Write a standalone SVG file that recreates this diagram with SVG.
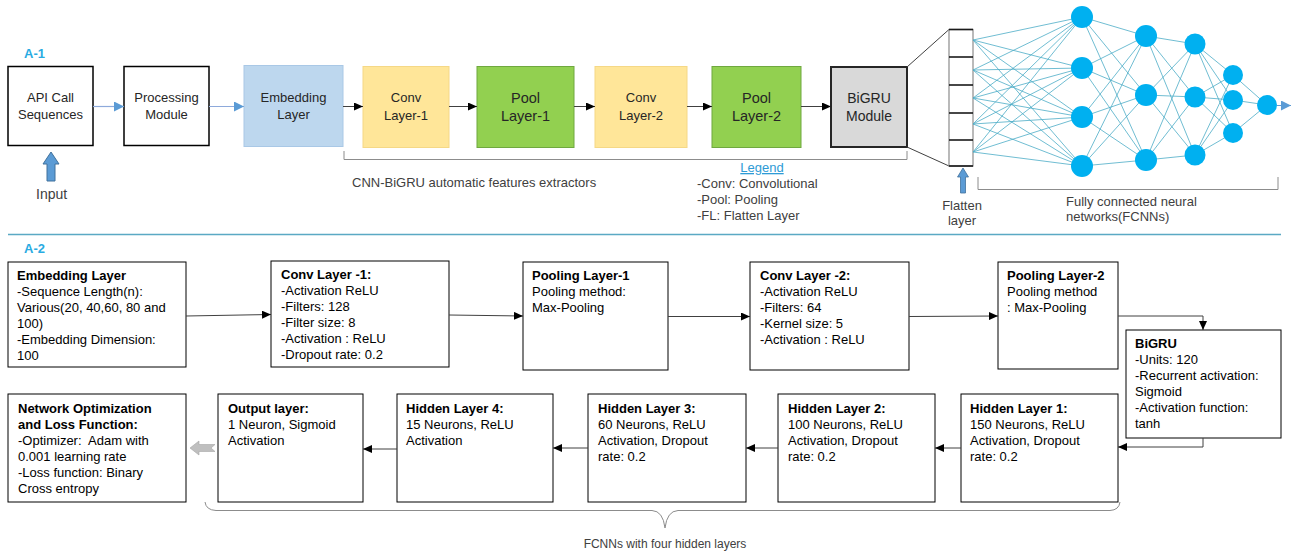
<svg xmlns="http://www.w3.org/2000/svg" width="1297" height="556" viewBox="0 0 1297 556">
<style>
text{font-family:"Liberation Sans",Arial,sans-serif;font-size:13px;fill:#000}
.c{text-anchor:middle;fill:#262626}
.b{font-weight:bold}
.lbl{font-weight:bold;fill:#29abe2;font-size:13px}
.box{fill:#fff;stroke:#000;stroke-width:1}
.tbox{fill:#fff;stroke:#000;stroke-width:1.5}
.emb{fill:#bdd7ee;stroke:#a9c8e6;stroke-width:1}
.conv{fill:#ffe699;stroke:#f5d886;stroke-width:1}
.pool{fill:#92d050;stroke:#6fa83f;stroke-width:1}
.gru{fill:#d9d9d9;stroke:#262626;stroke-width:2}
.ln{fill:none;stroke:#404040;stroke-width:1}
.bl{fill:none;stroke:#8eaadb;stroke-width:1.2}
.nn{stroke:#4bacc6;stroke-width:0.8;fill:none}
.neu{fill:#00b0f0}
.br{fill:none;stroke:#8c8c8c;stroke-width:1}
.gt{fill:#404040}
</style>
<defs>
<marker id="ab" markerUnits="userSpaceOnUse" markerWidth="9" markerHeight="8" refX="9" refY="4" orient="auto"><path d="M0,0 L9,4 L0,8 z" fill="#000"/></marker>
<marker id="abl" markerUnits="userSpaceOnUse" markerWidth="10" markerHeight="10" refX="10" refY="5" orient="auto"><path d="M0,0 L10,5 L0,10 z" fill="#5b9bd5"/></marker>
</defs>

<text class="lbl" x="24" y="58">A-1</text>
<text class="lbl" x="24" y="253">A-2</text>
<line x1="8" y1="234.5" x2="1281" y2="234.5" stroke="#5aa9c4" stroke-width="1.5"/>

<!-- Top row nodes -->
<g id="api"><rect class="tbox" x="8" y="66.5" width="85" height="79"/><text class="c" x="50.5" y="102">API Call</text><text class="c" x="50.5" y="119">Sequences</text></g>
<g id="processing"><rect class="tbox" x="124" y="66.5" width="85" height="79"/><text class="c" x="166.5" y="102">Processing</text><text class="c" x="166.5" y="119">Module</text></g>
<g id="embedding"><rect class="emb" x="244" y="65.5" width="99" height="81"/><text class="c" x="293.5" y="102">Embedding</text><text class="c" x="293.5" y="119">Layer</text></g>
<g id="conv1"><rect class="conv" x="363" y="66.5" width="86" height="81"/><text class="c" x="406" y="102">Conv</text><text class="c" x="406" y="120">Layer-1</text></g>
<g id="pool1"><rect class="pool" x="477" y="66.5" width="97" height="81"/><text class="c" x="525.5" y="103" style="font-size:14.5px">Pool</text><text class="c" x="525.5" y="121" style="font-size:14.5px">Layer-1</text></g>
<g id="conv2"><rect class="conv" x="595" y="66.5" width="92" height="81"/><text class="c" x="641" y="102">Conv</text><text class="c" x="641" y="120">Layer-2</text></g>
<g id="pool2"><rect class="pool" x="712" y="66.5" width="89" height="81"/><text class="c" x="756.5" y="103" style="font-size:14.5px">Pool</text><text class="c" x="756.5" y="121" style="font-size:14.5px">Layer-2</text></g>
<g id="bigru"><rect class="gru" x="831" y="67" width="76" height="80"/><text class="c" x="869" y="103" style="font-size:14px">BiGRU</text><text class="c" x="869" y="121" style="font-size:14px">Module</text></g>

<g id="input"><path d="M51,152 L59,164 L55,164 L55,181 L47,181 L47,164 L43,164 Z" fill="#5b9bd5" stroke="#41719c" stroke-width="1"/><text x="36" y="199" style="font-size:14px" class="gt">Input</text></g>

<g id="extractor-brace"><path class="br" d="M344,151 L344,159.5 L907,159.5 L907,151"/><text x="352" y="187" class="gt">CNN-BiGRU automatic features extractors</text></g>

<g id="legend">
<text x="762" y="172" text-anchor="middle" style="fill:#2e9bd6;text-decoration:underline">Legend</text>
<text x="697" y="188" class="gt">-Conv: Convolutional</text>
<text x="697" y="204" class="gt">-Pool: Pooling</text>
<text x="697" y="220" class="gt">-FL: Flatten Layer</text>
</g>

<!-- Flatten layer -->
<g id="flatten">
<line x1="907" y1="67" x2="949" y2="29.5" stroke="#404040" stroke-width="1"/>
<line x1="907" y1="147" x2="949" y2="166" stroke="#404040" stroke-width="1"/>
<rect x="949" y="29.5" width="24" height="136.5" fill="#fff" stroke="#8c8c8c" stroke-width="1.2"/>
<g stroke="#1a1a1a" stroke-width="1.6">
<line x1="949" y1="29.5" x2="973" y2="29.5"/><line x1="949" y1="57" x2="973" y2="57"/><line x1="949" y1="85" x2="973" y2="85"/><line x1="949" y1="113" x2="973" y2="113"/><line x1="949" y1="140" x2="973" y2="140"/><line x1="949" y1="166" x2="973" y2="166"/>
</g>
<path d="M963,168 L968.5,177 L965.5,177 L965.5,193 L960.5,193 L960.5,177 L957.5,177 Z" fill="#5b9bd5" stroke="#41719c" stroke-width="0.8"/>
<text class="c" x="962" y="210" style="fill:#404040">Flatten</text>
<text class="c" x="962" y="225" style="fill:#404040">layer</text>
</g>

<!-- Fully connected network -->
<g id="fcnn">
<g class="nn">
<path d="M973,40 L1082,17 M973,40 L1082,68 M973,40 L1082,117 M973,40 L1082,166 M973,70 L1082,17 M973,70 L1082,68 M973,70 L1082,117 M973,70 L1082,166 M973,98 L1082,17 M973,98 L1082,68 M973,98 L1082,117 M973,98 L1082,166 M973,124 L1082,17 M973,124 L1082,68 M973,124 L1082,117 M973,124 L1082,166 M973,152 L1082,17 M973,152 L1082,68 M973,152 L1082,117 M973,152 L1082,166"/>
<path d="M1082,17 L1146,36 M1082,17 L1146,95 M1082,17 L1146,160 M1082,68 L1146,36 M1082,68 L1146,95 M1082,68 L1146,160 M1082,117 L1146,36 M1082,117 L1146,95 M1082,117 L1146,160 M1082,166 L1146,36 M1082,166 L1146,95 M1082,166 L1146,160"/>
<path d="M1146,36 L1195,44 M1146,36 L1195,97 M1146,36 L1195,155 M1146,95 L1195,44 M1146,95 L1195,97 M1146,95 L1195,155 M1146,160 L1195,44 M1146,160 L1195,97 M1146,160 L1195,155"/>
<path d="M1195,44 L1233,75 M1195,44 L1233,100 M1195,44 L1233,133 M1195,97 L1233,75 M1195,97 L1233,100 M1195,97 L1233,133 M1195,155 L1233,75 M1195,155 L1233,100 M1195,155 L1233,133"/>
<path d="M1233,75 L1267,105 M1233,100 L1267,105 M1233,133 L1267,105"/>
</g>
<line x1="1277" y1="105.5" x2="1291" y2="105.5" stroke="#5b9bd5" stroke-width="1" marker-end="url(#abl)"/>
<circle class="neu" cx="1082" cy="17" r="11"/><circle class="neu" cx="1082" cy="68" r="11"/><circle class="neu" cx="1082" cy="117" r="11"/><circle class="neu" cx="1082" cy="166" r="11"/>
<circle class="neu" cx="1146" cy="36" r="11"/><circle class="neu" cx="1146" cy="95" r="11"/><circle class="neu" cx="1146" cy="160" r="11"/>
<circle class="neu" cx="1195" cy="44" r="10.5"/><circle class="neu" cx="1195" cy="97" r="10.5"/><circle class="neu" cx="1195" cy="155" r="10.5"/>
<circle class="neu" cx="1233" cy="75" r="10"/><circle class="neu" cx="1233" cy="100" r="10"/><circle class="neu" cx="1233" cy="133" r="10"/>
<circle class="neu" cx="1267" cy="105" r="10"/>
<path class="br" d="M978,177 L978,189.5 L1278,189.5 L1278,177"/>
<text x="1066" y="206" class="gt">Fully connected neural</text>
<text x="1066" y="221" class="gt">networks(FCNNs)</text>
</g>

<!-- A-2 row 1 -->
<g id="emb2"><rect class="box" x="8" y="262" width="178" height="105"/>
<text x="17" y="280" class="b">Embedding Layer</text><text x="17" y="296">-Sequence Length(n):</text><text x="17" y="312">Various(20, 40,60, 80 and</text><text x="17" y="328">100)</text><text x="17" y="344">-Embedding Dimension:</text><text x="17" y="360">100</text></g>
<g id="convl1"><rect class="box" x="271" y="261" width="178" height="106"/>
<text x="281" y="279" class="b">Conv Layer -1:</text><text x="281" y="295">-Activation ReLU</text><text x="281" y="311">-Filters: 128</text><text x="281" y="327">-Filter size: 8</text><text x="281" y="343">-Activation : ReLU</text><text x="281" y="359">-Dropout rate: 0.2</text></g>
<g id="pooll1"><rect class="box" x="523" y="262" width="145" height="108"/>
<text x="532" y="280" class="b">Pooling Layer-1</text><text x="532" y="296">Pooling method:</text><text x="532" y="312">Max-Pooling</text></g>
<g id="convl2"><rect class="box" x="750" y="262" width="159" height="108"/>
<text x="760" y="280" class="b">Conv Layer -2:</text><text x="760" y="296">-Activation ReLU</text><text x="760" y="312">-Filters: 64</text><text x="760" y="328">-Kernel size: 5</text><text x="760" y="344">-Activation : ReLU</text></g>
<g id="pooll2"><rect class="box" x="998" y="262" width="120" height="107"/>
<text x="1007" y="280" class="b">Pooling Layer-2</text><text x="1007" y="296">Pooling method</text><text x="1007" y="312">: Max-Pooling</text></g>
<g id="bigru2"><rect class="box" x="1126" y="330" width="155" height="108"/>
<text x="1135" y="348" class="b">BiGRU</text><text x="1135" y="364">-Units: 120</text><text x="1135" y="380">-Recurrent activation:</text><text x="1135" y="396">Sigmoid</text><text x="1135" y="412">-Activation function:</text><text x="1135" y="428">tanh</text></g>

<!-- A-2 row 2 -->
<g id="netopt"><rect class="box" x="8" y="394" width="178" height="108"/>
<text x="18" y="413" class="b">Network Optimization</text><text x="18" y="429" class="b">and Loss Function:</text><text x="18" y="445" style="white-space:pre">-Optimizer:  Adam with</text><text x="18" y="461">0.001 learning rate</text><text x="18" y="477">-Loss function: Binary</text><text x="18" y="493">Cross entropy</text></g>
<g id="output"><rect class="box" x="218" y="394" width="145" height="108"/>
<text x="228" y="413" class="b">Output layer:</text><text x="228" y="429">1 Neuron, Sigmoid</text><text x="228" y="445">Activation</text></g>
<g id="hl4"><rect class="box" x="397" y="394" width="156" height="108"/>
<text x="406" y="413" class="b">Hidden Layer 4:</text><text x="406" y="429">15 Neurons, ReLU</text><text x="406" y="445">Activation</text></g>
<g id="hl3"><rect class="box" x="588" y="394" width="158" height="108"/>
<text x="598" y="413" class="b">Hidden Layer 3:</text><text x="598" y="429">60 Neurons, ReLU</text><text x="598" y="445">Activation, Dropout</text><text x="598" y="461">rate: 0.2</text></g>
<g id="hl2"><rect class="box" x="778" y="394" width="157" height="108"/>
<text x="788" y="413" class="b">Hidden Layer 2:</text><text x="788" y="429">100 Neurons, ReLU</text><text x="788" y="445">Activation, Dropout</text><text x="788" y="461">rate: 0.2</text></g>
<g id="hl1"><rect class="box" x="961" y="394" width="157" height="108"/>
<text x="970" y="413" class="b">Hidden Layer 1:</text><text x="970" y="429">150 Neurons, ReLU</text><text x="970" y="445">Activation, Dropout</text><text x="970" y="461">rate: 0.2</text></g>

<g id="fcnn-brace"><path class="br" d="M205,502 Q206,510 216,510.5 L652,510.5 Q663,511 665,528 Q667,511 678,510.5 L1110,510.5 Q1119,510 1120,502"/>
<text x="665" y="548" text-anchor="middle" style="font-size:12px" class="gt">FCNNs with four hidden layers</text></g>

<!-- Connectors -->
<g id="connectors">
<line class="bl" x1="93" y1="106.5" x2="124" y2="106.5" marker-end="url(#abl)"/>
<line class="bl" x1="209" y1="106.5" x2="244" y2="106.5" marker-end="url(#abl)"/>
<line class="ln" x1="343" y1="106.5" x2="363" y2="106.5" marker-end="url(#ab)"/>
<line class="ln" x1="449" y1="106.5" x2="477" y2="106.5" marker-end="url(#ab)"/>
<line class="ln" x1="574" y1="106.5" x2="595" y2="106.5" marker-end="url(#ab)"/>
<line class="ln" x1="687" y1="106.5" x2="712" y2="106.5" marker-end="url(#ab)"/>
<line class="ln" x1="801" y1="106.5" x2="831" y2="106.5" marker-end="url(#ab)"/>
<path class="ln" d="M186,316 L271,314.5" marker-end="url(#ab)"/>
<path class="ln" d="M449,315 L523,316" marker-end="url(#ab)"/>
<path class="ln" d="M668,316.5 L750,316.5" marker-end="url(#ab)"/>
<path class="ln" d="M909,316.5 L998,316" marker-end="url(#ab)"/>
<path class="ln" d="M1118,316 L1203,316 L1203,330" marker-end="url(#ab)"/>
<path class="ln" d="M1203,438 L1203,447 L1118,447" marker-end="url(#ab)"/>
<line class="ln" x1="961" y1="448" x2="935" y2="448" marker-end="url(#ab)"/>
<line class="ln" x1="778" y1="448" x2="746" y2="448" marker-end="url(#ab)"/>
<line class="ln" x1="588" y1="448" x2="553" y2="448" marker-end="url(#ab)"/>
<line class="ln" x1="397" y1="449" x2="363" y2="449" marker-end="url(#ab)"/>
<path d="M190,448 L199,441 L199,444.5 L215,444.5 L211,448 L215,451.5 L199,451.5 L199,455 Z" fill="#bfbfbf" stroke="#a6a6a6" stroke-width="0.6"/>
</g>
</svg>
